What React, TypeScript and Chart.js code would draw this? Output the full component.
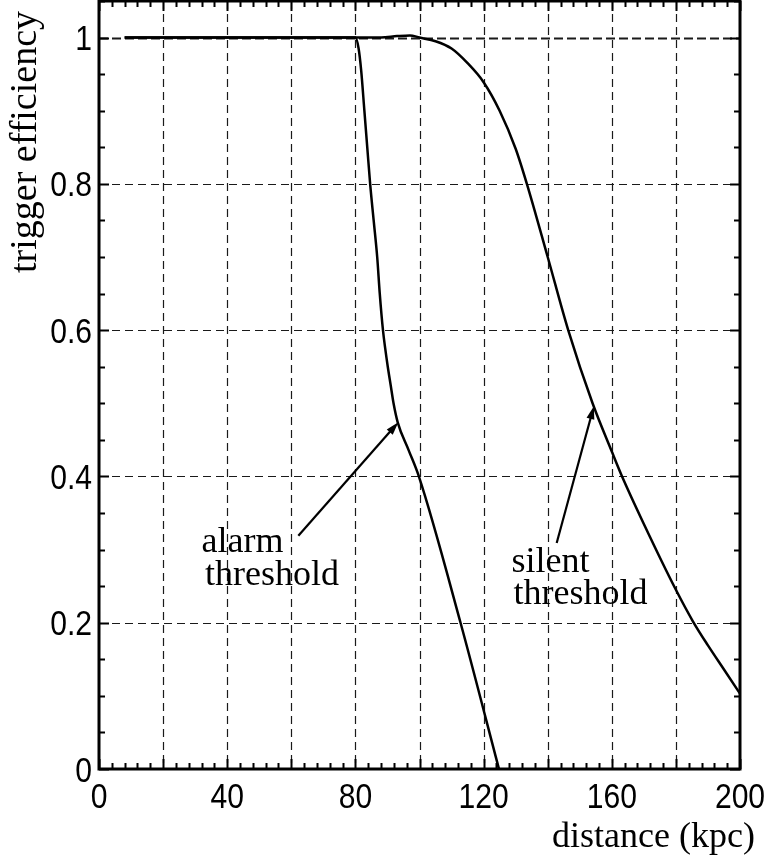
import React, { useEffect, useRef } from 'react';
import { Chart, registerables } from 'chart.js';

Chart.register(...registerables);

// ---- data ----
const alarmX = [8, 80, 81, 81.8, 82.8, 83.7, 84.6, 85.7, 86.8, 87.6, 88.6, 89.3, 90.1, 91.0, 91.9, 93.2, 96.6, 99.8, 112.8, 124.8];
const alarmY = [1, 1, 0.985, 0.955, 0.9, 0.85, 0.8, 0.75, 0.7, 0.65, 0.6, 0.575, 0.55, 0.525, 0.5, 0.474, 0.436, 0.4, 0.2, 0];

const silentX = [8, 88, 93, 97, 100, 105, 110, 115, 120, 125, 130, 133.5, 140, 146.4, 154, 160, 163, 170, 180, 185.3, 190, 195, 200];
const silentY = [1, 1, 1.002, 1.003, 1.0, 0.995, 0.985, 0.965, 0.939, 0.9, 0.848, 0.8, 0.7, 0.6, 0.5, 0.434, 0.402, 0.335, 0.245, 0.202, 0.169, 0.136, 0.103];

const xTickLabels = [0, 40, 80, 120, 160, 200];
const yTickLabels = [0, 0.2, 0.4, 0.6, 0.8, 1];
const xGridValues = [20, 40, 60, 80, 100, 120, 140, 160, 180];
const yGridValues = [0.2, 0.4, 0.6, 0.8, 1];
const xMinorStep = 4;
const yMinorStep = 0.05;

const xTitle = 'distance (kpc)';
const yTitle = 'trigger efficiency';

const annotationLines = [['alarm', 'threshold'], ['silent', 'threshold']];
const annotationTextAt = [
  [[32.0, 0.297], [33.1, 0.251]],
  [[128.7, 0.27], [129.3, 0.226]],
];
const arrowFrom = [[62.2, 0.319], [142.8, 0.309]];
const arrowTo = [[93.4, 0.474], [154.4, 0.496]];

const SANS = "'Liberation Sans', Arial, Helvetica, sans-serif";
const SERIF = "'Liberation Serif', 'Times New Roman', serif";
const NARROW = 0.86;

const toPoints = (xs: number[], ys: number[]) => xs.map((x, i) => ({ x, y: ys[i] }));

const resetPadding = (s: any) => {
  s.paddingTop = 0;
  s.paddingBottom = 0;
  s.paddingLeft = 0;
  s.paddingRight = 0;
};

function narrowText(ctx: CanvasRenderingContext2D, text: string, px: number, py: number, align: 'left' | 'center' | 'right') {
  const w = ctx.measureText(text).width * NARROW;
  let left = px;
  if (align === 'center') left = px - w / 2;
  if (align === 'right') left = px - w;
  ctx.save();
  ctx.translate(left, py);
  ctx.scale(NARROW, 1);
  ctx.textAlign = 'left';
  ctx.fillText(text, 0, 0);
  ctx.restore();
}

const framePlugin = {
  id: 'framePlugin',
  beforeDatasetsDraw(chart: any) {
    const { ctx, chartArea: a, scales } = chart;
    const x = scales.x;
    const y = scales.y;
    ctx.save();
    ctx.strokeStyle = '#1a1a1a';
    ctx.lineWidth = 1.2;
    ctx.setLineDash([8, 5]);
    for (const v of xGridValues) {
      const px = Math.round(x.getPixelForValue(v)) + 0.5;
      ctx.beginPath();
      ctx.moveTo(px, a.top);
      ctx.lineTo(px, a.bottom);
      ctx.stroke();
    }
    for (const v of yGridValues) {
      const py = Math.round(y.getPixelForValue(v)) + 0.5;
      ctx.lineWidth = v === 1 ? 2.2 : 1.2;
      ctx.setLineDash(v === 1 ? [9, 4] : [8, 5]);
      ctx.beginPath();
      ctx.moveTo(a.left, py);
      ctx.lineTo(a.right, py);
      ctx.stroke();
    }
    ctx.restore();
  },
  afterDatasetsDraw(chart: any) {
    const { ctx, chartArea: a, scales } = chart;
    const x = scales.x;
    const y = scales.y;
    ctx.save();
    ctx.setLineDash([]);
    ctx.strokeStyle = '#000';
    ctx.fillStyle = '#000';
    ctx.lineWidth = 2;

    // x ticks (bottom and top, pointing inward)
    for (let i = 0; i * xMinorStep <= 200 + 1e-9; i++) {
      const v = i * xMinorStep;
      const len = i % 5 === 0 ? 10 : 6;
      const px = Math.round(x.getPixelForValue(v)) + 0.5;
      ctx.beginPath();
      ctx.moveTo(px, a.bottom);
      ctx.lineTo(px, a.bottom - len);
      ctx.moveTo(px, a.top);
      ctx.lineTo(px, a.top + len);
      ctx.stroke();
    }
    // y ticks (left and right, pointing inward)
    for (let i = 0; i * yMinorStep <= 1.05 + 1e-9; i++) {
      const v = i * yMinorStep;
      const len = i % 4 === 0 ? 10 : 6;
      const py = Math.round(y.getPixelForValue(v)) + 0.5;
      ctx.beginPath();
      ctx.moveTo(a.left, py);
      ctx.lineTo(a.left + len, py);
      ctx.moveTo(a.right, py);
      ctx.lineTo(a.right - len, py);
      ctx.stroke();
    }
    // frame
    ctx.lineWidth = 3;
    ctx.strokeRect(a.left, a.top, a.right - a.left, a.bottom - a.top);

    // tick labels (narrow sans)
    ctx.font = `35px ${SANS}`;
    ctx.textBaseline = 'alphabetic';
    for (const v of xTickLabels) {
      narrowText(ctx, String(v), x.getPixelForValue(v), a.bottom + 39, 'center');
    }
    for (const v of yTickLabels) {
      narrowText(ctx, String(v), a.left - 7, y.getPixelForValue(v) + 12.5, 'right');
    }

    // annotations
    ctx.font = `36px ${SERIF}`;
    ctx.textAlign = 'left';
    annotationLines.forEach((lines, i) => {
      lines.forEach((t, j) => {
        const [dx, dy] = annotationTextAt[i][j];
        ctx.fillText(t, x.getPixelForValue(dx), y.getPixelForValue(dy));
      });
      const x0 = x.getPixelForValue(arrowFrom[i][0]);
      const y0 = y.getPixelForValue(arrowFrom[i][1]);
      const x1 = x.getPixelForValue(arrowTo[i][0]);
      const y1 = y.getPixelForValue(arrowTo[i][1]);
      const ang = Math.atan2(y1 - y0, x1 - x0);
      const headLen = 13;
      const headW = 4;
      ctx.lineWidth = 2.2;
      ctx.beginPath();
      ctx.moveTo(x0, y0);
      ctx.lineTo(x1 - Math.cos(ang) * headLen * 0.8, y1 - Math.sin(ang) * headLen * 0.8);
      ctx.stroke();
      ctx.beginPath();
      ctx.moveTo(x1, y1);
      ctx.lineTo(
        x1 - Math.cos(ang) * headLen - Math.sin(ang) * headW,
        y1 - Math.sin(ang) * headLen + Math.cos(ang) * headW
      );
      ctx.lineTo(
        x1 - Math.cos(ang) * headLen + Math.sin(ang) * headW,
        y1 - Math.sin(ang) * headLen - Math.cos(ang) * headW
      );
      ctx.closePath();
      ctx.fill();
    });

    // axis titles
    ctx.font = `36px ${SERIF}`;
    ctx.textAlign = 'right';
    ctx.fillText(xTitle, 755, 847);

    ctx.save();
    ctx.font = `38px ${SERIF}`;
    ctx.translate(36, 142);
    ctx.rotate(-Math.PI / 2);
    ctx.textAlign = 'center';
    ctx.fillText(yTitle, 0, 0);
    ctx.restore();

    ctx.restore();
  },
};

export default function App() {
  const ref = useRef<HTMLCanvasElement | null>(null);

  useEffect(() => {
    if (!ref.current) return;
    const chart = new Chart(ref.current, {
      type: 'line',
      data: {
        datasets: [
          {
            label: 'alarm',
            data: toPoints(alarmX, alarmY),
            borderColor: '#000',
            borderWidth: 2.5,
            pointRadius: 0,
            fill: false,
            cubicInterpolationMode: 'monotone',
          },
          {
            label: 'silent',
            data: toPoints(silentX, silentY),
            borderColor: '#000',
            borderWidth: 2.5,
            pointRadius: 0,
            fill: false,
            cubicInterpolationMode: 'monotone',
          },
        ],
      },
      options: {
        animation: false,
        responsive: false,
        maintainAspectRatio: false,
        devicePixelRatio: 1,
        layout: { padding: { left: 0, right: 30, top: 1, bottom: 0 } },
        plugins: { legend: { display: false }, tooltip: { enabled: false } },
        scales: {
          x: {
            type: 'linear',
            min: 0,
            max: 200,
            grid: { display: false, drawTicks: false },
            border: { display: false },
            ticks: { display: false },
            afterBuildTicks: (s: any) => {
              s.ticks = xTickLabels.map((v) => ({ value: v }));
            },
            afterFit: (s: any) => {
              s.height = 86;
              resetPadding(s);
            },
          },
          y: {
            type: 'linear',
            min: 0,
            max: 1.05,
            grid: { display: false, drawTicks: false },
            border: { display: false },
            ticks: { display: false },
            afterBuildTicks: (s: any) => {
              s.ticks = yTickLabels.map((v) => ({ value: v }));
            },
            afterFit: (s: any) => {
              s.width = 99;
              resetPadding(s);
            },
          },
        },
      },
      plugins: [framePlugin],
    } as any);
    return () => chart.destroy();
  }, []);

  return (
    <div style={{ position: 'absolute', left: 0, top: 0, width: 770, height: 855, background: '#fff' }}>
      <canvas ref={ref} width={770} height={855} />
    </div>
  );
}
